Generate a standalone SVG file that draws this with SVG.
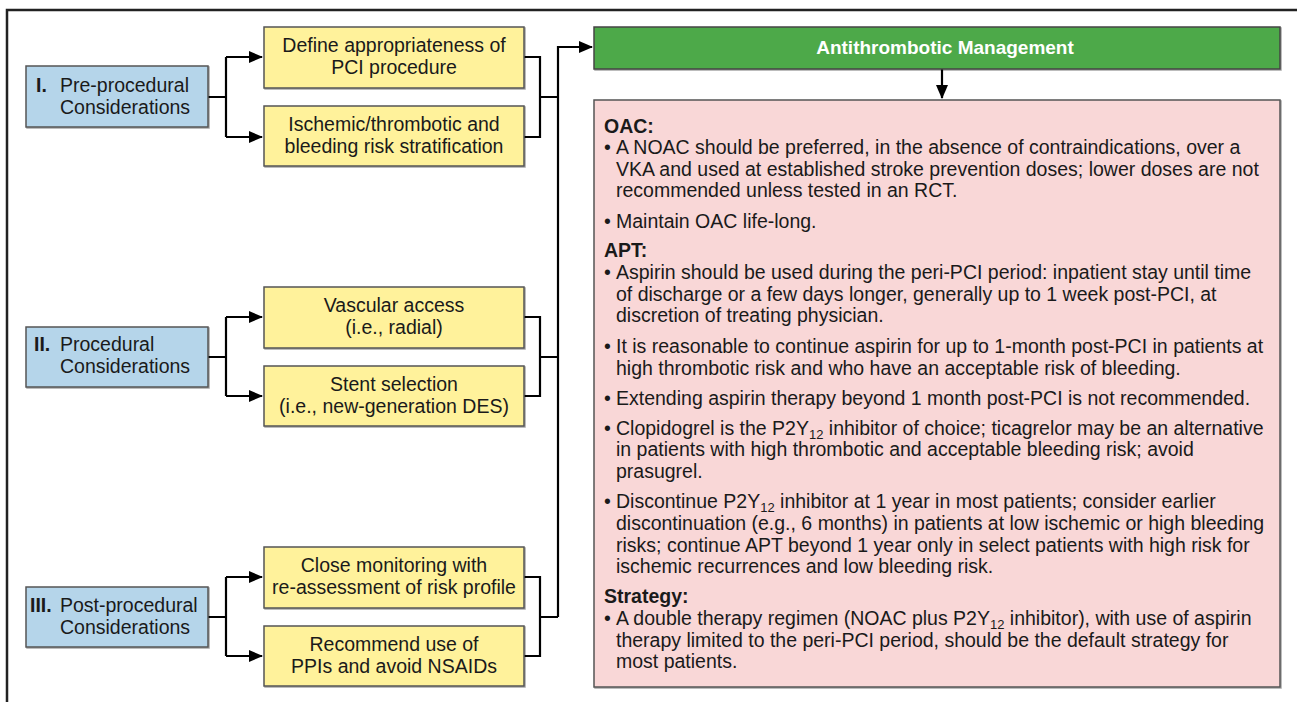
<svg xmlns="http://www.w3.org/2000/svg" width="1297" height="702" viewBox="0 0 1297 702">
<defs>
<marker id="ah" markerWidth="14" markerHeight="12" refX="13" refY="6" orient="auto" markerUnits="userSpaceOnUse">
<path d="M0,0 L14,6 L0,12 Z" fill="#000"/>
</marker>
<filter id="sh" x="-5%" y="-5%" width="110%" height="115%">
<feDropShadow dx="1" dy="1" stdDeviation="0.6" flood-color="#000" flood-opacity="0.35"/>
</filter>
</defs>
<style>
text{font-family:"Liberation Sans",Arial,sans-serif;font-size:19.5px;fill:#1a1a1a}
.c{text-anchor:middle}
.b{font-weight:bold}
.t{font-size:19px}
.blue{fill:#b5d5ea;stroke:#555;stroke-width:1.5}
.yel{fill:#fff29b;stroke:#555;stroke-width:1.5}
.grn{fill:#4ea94a;stroke:#444;stroke-width:1.5}
.pink{fill:#f9d7d7;stroke:#555;stroke-width:1.5}
.ln{fill:none;stroke:#000;stroke-width:2.2}
.sub{font-size:13px}
</style>
<rect width="1297" height="702" fill="#fff"/>
<path d="M7,702 V10 H1297" fill="none" stroke="#222" stroke-width="2.5"/>

<g id="connectors">
<path class="ln" d="M208,97 H226 M226,57 V137 M226,57 H262" marker-end="url(#ah)"/>
<path class="ln" d="M226,137 H262" marker-end="url(#ah)"/>
<path class="ln" d="M524,57 H540 V137 H524 M540,97 H558"/>
<path class="ln" d="M208,357 H226 M226,317 V396 M226,317 H262" marker-end="url(#ah)"/>
<path class="ln" d="M226,396 H262" marker-end="url(#ah)"/>
<path class="ln" d="M524,317 H540 V396 H524 M540,357 H558"/>
<path class="ln" d="M208,617 H226 M226,577 V656 M226,577 H262" marker-end="url(#ah)"/>
<path class="ln" d="M226,656 H262" marker-end="url(#ah)"/>
<path class="ln" d="M524,577 H540 V656 H524 M540,617 H558"/>
<path class="ln" d="M558,617 V47 H592" marker-end="url(#ah)"/>
<path class="ln" d="M942,69 V98" marker-end="url(#ah)"/>
</g>

<g id="n-pre">
<rect class="blue" x="26" y="66" width="182" height="61" filter="url(#sh)"/>
<text x="36" y="92" class="b">I.</text>
<text x="60" y="92">Pre-procedural</text>
<text x="60" y="114">Considerations</text>
</g>
<g id="n-define">
<rect class="yel" x="264" y="27" width="260" height="61" filter="url(#sh)"/>
<text x="394" y="52" class="c">Define appropriateness of</text>
<text x="394" y="74" class="c">PCI procedure</text>
</g>
<g id="n-risk">
<rect class="yel" x="264" y="106" width="260" height="60" filter="url(#sh)"/>
<text x="394" y="131" class="c">Ischemic/thrombotic and</text>
<text x="394" y="153" class="c">bleeding risk stratification</text>
</g>

<g id="n-proc">
<rect class="blue" x="26" y="327" width="182" height="60" filter="url(#sh)"/>
<text x="34" y="351" class="b">II.</text>
<text x="60" y="351">Procedural</text>
<text x="60" y="373">Considerations</text>
</g>
<g id="n-vasc">
<rect class="yel" x="264" y="287" width="260" height="61" filter="url(#sh)"/>
<text x="394" y="312" class="c">Vascular access</text>
<text x="394" y="334" class="c">(i.e., radial)</text>
</g>
<g id="n-stent">
<rect class="yel" x="264" y="366" width="260" height="60" filter="url(#sh)"/>
<text x="394" y="391" class="c">Stent selection</text>
<text x="394" y="413" class="c">(i.e., new-generation DES)</text>
</g>

<g id="n-post">
<rect class="blue" x="26" y="587" width="182" height="60" filter="url(#sh)"/>
<text x="30" y="612" class="b">III.</text>
<text x="60" y="612">Post-procedural</text>
<text x="60" y="634">Considerations</text>
</g>
<g id="n-monitor">
<rect class="yel" x="264" y="547" width="260" height="61" filter="url(#sh)"/>
<text x="394" y="572" class="c">Close monitoring with</text>
<text x="394" y="594" class="c">re-assessment of risk profile</text>
</g>
<g id="n-ppi">
<rect class="yel" x="264" y="626" width="260" height="60" filter="url(#sh)"/>
<text x="394" y="651" class="c">Recommend use of</text>
<text x="394" y="673" class="c">PPIs and avoid NSAIDs</text>
</g>

<g id="n-anti">
<rect class="grn" x="594" y="27" width="686" height="42" filter="url(#sh)"/>
<text x="945" y="54" class="c b t" style="fill:#fff">Antithrombotic Management</text>
</g>

<g id="n-detail">
<rect class="pink" x="594" y="100" width="686" height="587" filter="url(#sh)"/>
<text x="604" y="133" class="b">OAC:</text>
<text x="604" y="154">•</text><text x="616" y="154">A NOAC should be preferred, in the absence of contraindications, over a</text>
<text x="616" y="176">VKA and used at established stroke prevention doses; lower doses are not</text>
<text x="616" y="197">recommended unless tested in an RCT.</text>
<text x="604" y="228">•</text><text x="616" y="228">Maintain OAC life-long.</text>
<text x="604" y="257" class="b">APT:</text>
<text x="604" y="279">•</text><text x="616" y="279">Aspirin should be used during the peri-PCI period: inpatient stay until time</text>
<text x="616" y="301">of discharge or a few days longer, generally up to 1 week post-PCI, at</text>
<text x="616" y="322">discretion of treating physician.</text>
<text x="604" y="353">•</text><text x="616" y="353">It is reasonable to continue aspirin for up to 1-month post-PCI in patients at</text>
<text x="616" y="375">high thrombotic risk and who have an acceptable risk of bleeding.</text>
<text x="604" y="405">•</text><text x="616" y="405">Extending aspirin therapy beyond 1 month post-PCI is not recommended.</text>
<text x="604" y="435">•</text><text x="616" y="435">Clopidogrel is the P2Y<tspan class="sub" dy="3.5">12</tspan><tspan dy="-3.5"> inhibitor of choice; ticagrelor may be an alternative</tspan></text>
<text x="616" y="456">in patients with high thrombotic and acceptable bleeding risk; avoid</text>
<text x="616" y="478">prasugrel.</text>
<text x="604" y="508">•</text><text x="616" y="508">Discontinue P2Y<tspan class="sub" dy="3.5">12</tspan><tspan dy="-3.5"> inhibitor at 1 year in most patients; consider earlier</tspan></text>
<text x="616" y="530">discontinuation (e.g., 6 months) in patients at low ischemic or high bleeding</text>
<text x="616" y="552">risks; continue APT beyond 1 year only in select patients with high risk for</text>
<text x="616" y="573">ischemic recurrences and low bleeding risk.</text>
<text x="604" y="603" class="b">Strategy:</text>
<text x="604" y="625">•</text><text x="616" y="625">A double therapy regimen (NOAC plus P2Y<tspan class="sub" dy="3.5">12</tspan><tspan dy="-3.5"> inhibitor), with use of aspirin</tspan></text>
<text x="616" y="647">therapy limited to the peri-PCI period, should be the default strategy for</text>
<text x="616" y="668">most patients.</text>
</g>
</svg>
